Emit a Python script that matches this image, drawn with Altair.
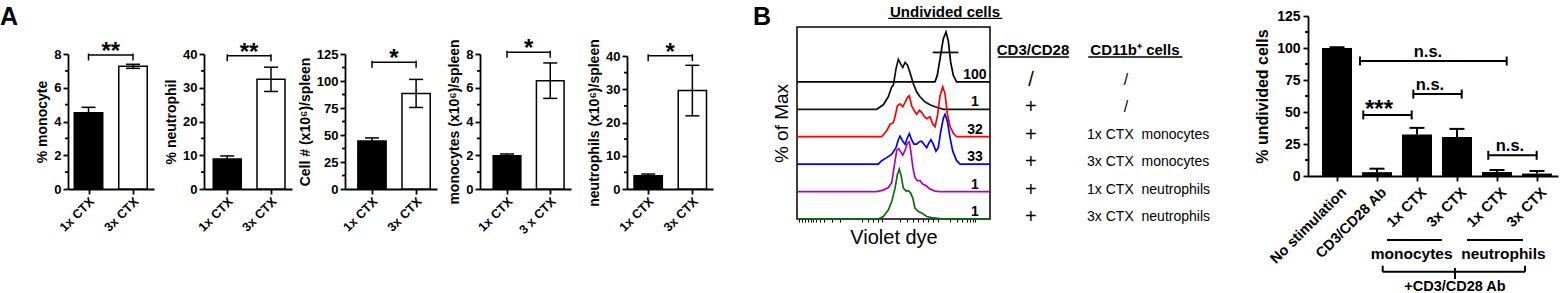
import altair as alt
import pandas as pd

W, H = 1562, 293
FONT = "Liberation Sans"

# ---------------- Panel A data ----------------
A_GROUPS = ["1x CTX", "3x CTX"]
A_TICKLABELS = [["1x CTX", "3x CTX"], ["1x CTX", "3x CTX"], ["1x CTX", "3x CTX"],
                ["1x CTX", "3 x CTX"], ["1x CTX", "3x CTX"]]
A_TITLES = ["% monocyte", "% neutrophil", "Cell # (x10\u2076)/spleen",
            "monocytes (x10\u2076)/spleen", "neutrophils (x10\u2076)/spleen"]
A_MEAN = [[4.52, 7.27], [8.9, 32.5], [44.5, 88.5], [1.97, 6.42], [4.0, 29.6]]
A_SEM = [[0.32, 0.12], [0.9, 3.6], [2.8, 13.0], [0.1, 1.05], [0.5, 7.6]]
A_YMAX = [8, 40, 125, 8, 40]
A_YSTEP = [2, 10, 25, 2, 10]
A_SIG = ["**", "**", "*", "*", "*"]
A_SIG_Y = [7.94, 39.5, 117.3, 8.1, 40.1]

# layout of panel A (pixels of each plot area, and x-domain in group units)
A_XRANGE = [[68, 154], [204, 292], [345, 437], [480, 571], [627, 713]]
A_XDOM = [[0.539, 2.472], [0.469, 2.48], [0.388, 2.474], [0.375, 2.48], [0.521, 2.467]]
A_YTOP = [54, 54, 54, 54, 56]
A_YBOT = 189
A_HALF = 0.32

# ---------------- Panel B histogram data ----------------
HIST_NAMES = ["No stimulation", "CD3/CD28", "1x CTX monocytes", "3x CTX monocytes",
              "1x CTX neutrophils", "3x CTX neutrophils"]
HIST_COLORS = ["#000000", "#111111", "#ff0000", "#0000ff", "#b400b4", "#0b6e0b"]
U0 = [0, 71.5, 72.7, 74.1, 75.8, 77.2, 78.4, 79.6, 81.0, 82.7, 100]
P0 = [0, 0, 13, 46, 86, 100, 82, 40, 13, 0, 0]
U1 = [0, 41.3, 44.7, 47.3, 49.1, 49.9, 51.3, 52.5, 53.7, 54.8, 56.0, 57.2, 58.5, 60.3, 62.0,
      63.7, 66.3, 68.9, 71.5, 74.1, 75.8, 100]
P1 = [0, 0, 9, 25, 45, 48, 81, 100, 91, 84, 94, 89, 74, 51, 35, 25, 15, 9, 5, 2, 0, 0]
U2 = [0, 43.9, 46.5, 48.2, 49.9, 50.8, 52.0, 53.4, 54.8, 56.0, 57.2, 58.2, 59.4, 60.6, 62.0,
      63.4, 64.6, 66.0, 67.2, 68.9, 70.3, 71.5, 72.7, 74.1, 75.5, 76.7, 77.9, 79.3, 81.0, 82.7, 100]
P2 = [0, 0, 12, 25, 28, 40, 62, 66, 60, 69, 79, 82, 62, 53, 45, 53, 49, 40, 36, 40, 26, 20, 40,
      82, 100, 86, 46, 20, 7, 0, 0]
U3 = [0, 42.1, 43.9, 46.5, 49.1, 51.3, 52.5, 53.4, 54.8, 56.0, 57.2, 58.2, 59.4, 60.6, 62.0,
      63.4, 64.6, 65.8, 67.2, 68.4, 69.4, 70.6, 72.0, 73.2, 74.5, 75.8, 76.7, 77.9, 79.3, 80.7,
      82.7, 84.5, 100]
P3 = [0, 0, 7, 13, 20, 33, 49, 56, 46, 40, 53, 61, 49, 40, 40, 45, 46, 40, 33, 43, 49, 40, 26,
      33, 66, 92, 100, 86, 53, 26, 7, 0, 0]
U4 = [0, 41.3, 44.7, 47.3, 49.1, 50.3, 51.7, 52.7, 53.7, 54.8, 56.0, 57.2, 58.2, 58.9, 60.0,
      61.1, 62.3, 63.7, 65.1, 66.8, 68.9, 71.5, 74.1, 100]
P4 = [0, 0, 3, 8, 18, 49, 83, 86, 80, 73, 83, 97, 100, 83, 49, 29, 22, 22, 15, 12, 5, 1, 0, 0]
U5 = [0, 42.1, 44.7, 47.3, 49.1, 50.8, 52.0, 53.0, 54.0, 55.1, 56.5, 57.7, 58.9, 60.0, 61.1,
      62.9, 64.6, 67.2, 69.8, 74.1, 77.6, 100]
P5 = [0, 0, 5, 18, 35, 62, 89, 100, 86, 62, 56, 57, 52, 42, 22, 15, 12, 5, 3, 1, 0, 0]
HIST_U = [U0, U1, U2, U3, U4, U5]
HIST_P = [P0, P1, P2, P3, P4, P5]
HIST_UNDIV = ["100", "1", "32", "33", "1", "1"]
GATE_U = [70.3, 83.6]
GATE_PCT = 59
TABLE_STIM = ["/", "+", "+", "+", "+", "+"]
TABLE_CELLS = ["/", "/", "1x CTX\u00a0 monocytes", "3x CTX\u00a0 monocytes",
               "1x CTX\u00a0 neutrophils", "3x CTX\u00a0 neutrophils"]
HIST_TICKS = [1, 2.5, 4, 5.5, 7, 8.5, 10, 12, 14, 18, 22.3, 33.5, 37, 39.5, 42, 44, 53.4, 56.8,
              60.3, 62.8, 65.4, 68, 70.6, 73.2, 79.3, 82.7, 85.3, 87.9, 89.6, 91, 92.2]

# histogram layout
HX_DOM = [0, 100]
HX_RANGE = [797, 990]
HY_DOM = [0, 385]
HY_RANGE = [219, 27]
H_STEP = 55

# ---------------- Panel B bar data ----------------
B_CATS = ["No stimulation", "CD3/CD28 Ab", "1x CTX", "3x CTX", "1x CTX", "3x CTX"]
B_MEAN = [100.0, 3.0, 32.4, 30.5, 3.1, 1.9]
B_SEM = [0.6, 2.7, 5.2, 6.3, 1.6, 2.0]
B_SIG_X1 = [1.657, 2.908, 1.575, 4.782]
B_SIG_X2 = [2.867, 4.117, 5.242, 5.992]
B_SIG_Y = [47.7, 64.0, 89.8, 16.2]
B_SIG_LABEL = ["***", "n.s.", "n.s.", "n.s."]
B_SIG_LX = [2.05, 3.325, 3.275, 5.325]
B_GROUP_NAMES = ["monocytes", "neutrophils"]
B_GROUP_X1 = [2.25, 4.25]
B_GROUP_X2 = [3.625, 5.65]
B_GROUP_TX = [2.867, 5.16]

B_XRANGE = [1308, 1558]
B_XDOM = [0.275, 6.525]
B_YRANGE = [176, 16]
B_HALF = 0.375

AXW = 1.8


def minor_ticks(values, x0, X, Y):
    df = pd.DataFrame({"v": values, "x0": [x0] * len(values)})
    return alt.Chart(df).mark_tick(orient="horizontal", size=3, thickness=AXW,
                                   xOffset=-1.5, color="black", opacity=1).encode(
        x=X("x0:Q"), y=Y("v:Q"))


def make_enc(scale, axis, ch):
    def f(field):
        return ch(field, scale=scale, axis=axis)
    return f


def panel_a(i):
    df = pd.DataFrame({"pos": [1, 2], "group": A_GROUPS, "mean": A_MEAN[i], "sem": A_SEM[i]})
    xs = alt.Scale(domain=A_XDOM[i], range=A_XRANGE[i], nice=False, zero=False)
    ys = alt.Scale(domain=[0, A_YMAX[i]], range=[A_YBOT, A_YTOP[i]], nice=False, zero=False)
    step = A_YSTEP[i]
    lab = A_TICKLABELS[i]
    ymajor = list(range(0, A_YMAX[i] + 1, step))
    yminor = [v + step / 2 for v in ymajor[:-1]]
    xaxis = alt.Axis(values=[1, 2], labelExpr=f"datum.value == 1 ? '{lab[0]}' : '{lab[1]}'",
                     title=None, orient="bottom", offset=A_YBOT - H, labelAngle=315,
                     labelAlign="right", labelBaseline="middle", labelFontSize=12.5,
                     labelFontWeight="bold", tickSize=5, labelPadding=5, labelOffset=3,
                     labelFlush=False, labelOverlap=False, labelLimit=300, grid=False)
    yaxis = alt.Axis(values=ymajor, tickSize=5,
                     title=A_TITLES[i], orient="left", offset=-A_XRANGE[i][0],
                     labelFontSize=13, labelFontWeight="bold", labelPadding=2,
                     titleFontSize=14, titleFontWeight="bold", titlePadding=4,
                     labelOverlap=False, labelFlush=False, grid=False)
    X = make_enc(xs, xaxis, alt.X)
    Y = make_enc(ys, yaxis, alt.Y)
    base = alt.Chart(df).transform_calculate(
        lo=f"datum.pos - {A_HALF}", hi=f"datum.pos + {A_HALF}",
        up="datum.mean + datum.sem", dn="datum.mean - datum.sem", zero="0")
    bars = base.mark_bar(stroke="black", strokeWidth=1.5, opacity=1).encode(
        x=X("lo:Q"), x2="hi:Q", y=Y("mean:Q"), y2="zero:Q",
        fill=alt.condition(alt.datum.pos == 1, alt.value("black"), alt.value("white")))
    err = base.mark_rule(strokeWidth=1.5, color="black").encode(
        x=X("pos:Q"), y=Y("dn:Q"), y2="up:Q")
    cap_up = base.mark_tick(orient="horizontal", size=14, thickness=1.5, color="black",
                            opacity=1).encode(x=X("pos:Q"), y=Y("up:Q"))
    cap_dn = base.mark_tick(orient="horizontal", size=14, thickness=1.5, color="black",
                            opacity=1).encode(x=X("pos:Q"), y=Y("dn:Q"))
    sig = pd.DataFrame({"x1": [1], "x2": [2], "y": [A_SIG_Y[i]], "label": [A_SIG[i]]})
    sbase = alt.Chart(sig)
    br = sbase.mark_rule(strokeWidth=1.5, color="black").encode(
        x=X("x1:Q"), x2="x2:Q", y=Y("y:Q"))
    ends = sbase.transform_fold(["x1", "x2"], as_=["end", "xe"]).mark_tick(
        orient="vertical", size=7, thickness=1.5, yOffset=2, color="black", opacity=1).encode(
        x=X("xe:Q"), y=Y("y:Q"))
    star = sbase.transform_calculate(xm="(datum.x1 + datum.x2) / 2").mark_text(
        fontSize=24, fontWeight="bold", baseline="alphabetic", dy=4, font=FONT).encode(
        x=X("xm:Q"), y=Y("y:Q"), text="label:N")
    minor = minor_ticks(yminor, A_XDOM[i][0], X, Y)
    return alt.layer(bars, err, cap_up, cap_dn, br, ends, star, minor)


def panel_hist():
    rows = []
    for k, (us, ps) in enumerate(zip(HIST_U, HIST_P)):
        for u, p in zip(us, ps):
            rows.append({"k": k, "trace": HIST_NAMES[k], "u": u, "pct": p})
    df = pd.DataFrame(rows)
    xs = alt.Scale(domain=HX_DOM, range=HX_RANGE, nice=False, zero=False)
    ys = alt.Scale(domain=HY_DOM, range=HY_RANGE, nice=False, zero=False)
    xaxis = alt.Axis(values=HIST_TICKS, labels=False, tickSize=3, tickWidth=1, domain=False,
                     title="Violet dye", titleFontSize=20, titleFontWeight="normal",
                     titlePadding=5, orient="bottom", offset=HY_RANGE[0] - H, grid=False)
    yaxis = alt.Axis(labels=False, ticks=False, domain=False, title="% of Max",
                     titleFontSize=19, titleFontWeight="normal", titlePadding=6,
                     orient="left", offset=-HX_RANGE[0], grid=False)
    X = make_enc(xs, xaxis, alt.X)
    Y = make_enc(ys, yaxis, alt.Y)
    frame = alt.Chart(pd.DataFrame({"x0": [HX_DOM[0]], "x1": [HX_DOM[1]],
                                    "y0": [HY_DOM[0]], "y1": [HY_DOM[1]]})).mark_rect(
        fillOpacity=0, stroke="black", strokeWidth=1.5).encode(
        x=X("x0:Q"), x2="x1:Q", y=Y("y0:Q"), y2="y1:Q")
    lines = alt.Chart(df).transform_calculate(
        yy=f"(5 - datum.k) * {H_STEP} + datum.pct").mark_line(strokeWidth=1.7, opacity=1).encode(
        x=X("u:Q"), y=Y("yy:Q"),
        color=alt.Color("trace:N", scale=alt.Scale(domain=HIST_NAMES, range=HIST_COLORS),
                        legend=None),
        order="u:Q")
    gate = alt.Chart(pd.DataFrame({"u1": [GATE_U[0]], "u2": [GATE_U[1]], "p": [GATE_PCT]})
                     ).transform_calculate(yy=f"5 * {H_STEP} + datum.p").mark_rule(
        strokeWidth=1.7, color="black").encode(x=X("u1:Q"), x2="u2:Q", y=Y("yy:Q"))
    tab = pd.DataFrame({"k": list(range(6)), "num": HIST_UNDIV, "stim": TABLE_STIM,
                        "cells": TABLE_CELLS})
    tbase = alt.Chart(tab).transform_calculate(
        base=f"(5 - datum.k) * {H_STEP}", ynum="datum.base + 6", yrow="datum.base + 4",
        xnum="92.2", xstim="121.2", xslash="170.5", xcell="150.3")
    nums = tbase.mark_text(fontSize=14, fontWeight="bold", baseline="alphabetic", align="center",
                           font=FONT).encode(x=X("xnum:Q"), y=Y("ynum:Q"), text="num:N")
    stim = tbase.mark_text(fontSize=20, baseline="middle", align="center", font=FONT).encode(
        x=X("xstim:Q"), y=Y("yrow:Q"), text="stim:N")
    slash = tbase.transform_filter("datum.cells == '/'").mark_text(
        fontSize=16, baseline="middle", align="center", font=FONT).encode(
        x=X("xslash:Q"), y=Y("yrow:Q"), text="cells:N")
    cells = tbase.transform_filter("datum.cells != '/'").mark_text(
        fontSize=14, baseline="middle", align="left", font=FONT).encode(
        x=X("xcell:Q"), y=Y("yrow:Q"), text="cells:N")
    heads = pd.DataFrame({"t": ["Undivided cells", "CD3/CD28", "CD11b\u207a cells"],
                          "xc": [76.7, 122.3, 175.1], "x1": [47.3, 104.1, 150.9],
                          "x2": [106.4, 140.9, 199.7], "yt": [406, 329, 329],
                          "yl": [402.4, 324.8, 324.8]})
    htext = alt.Chart(heads).mark_text(fontSize=15, fontWeight="bold", baseline="alphabetic",
                                       align="center", font=FONT).encode(
        x=X("xc:Q"), y=Y("yt:Q"), text="t:N")
    hline = alt.Chart(heads).mark_rule(strokeWidth=1.3, color="black").encode(
        x=X("x1:Q"), x2="x2:Q", y=Y("yl:Q"))
    return alt.layer(frame, lines, gate, nums, stim, slash, cells, htext, hline)


def panel_b():
    df = pd.DataFrame({"pos": list(range(1, 7)), "cat": B_CATS, "mean": B_MEAN, "sem": B_SEM})
    xs = alt.Scale(domain=B_XDOM, range=B_XRANGE, nice=False, zero=False)
    ys = alt.Scale(domain=[0, 125], range=B_YRANGE, nice=False, zero=False)
    cats_js = "[" + ",".join("'" + c + "'" for c in B_CATS) + "]"
    xaxis = alt.Axis(values=list(range(1, 7)), labelExpr=f"{cats_js}[datum.value - 1]",
                     title=None, orient="bottom", offset=B_YRANGE[0] - H, labelAngle=315,
                     labelAlign="right", labelBaseline="middle", labelFontSize=14.5,
                     labelFontWeight="bold", tickSize=5, labelPadding=9, labelOffset=7,
                     labelFlush=False, labelOverlap=False, labelLimit=300, grid=False)
    yaxis = alt.Axis(values=[0, 25, 50, 75, 100, 125], tickSize=5,
                     title="% undivided cells", orient="left", offset=-B_XRANGE[0],
                     labelFontSize=14, labelFontWeight="bold", labelPadding=3,
                     titleFontSize=16, titleFontWeight="bold", titlePadding=6,
                     labelOverlap=False, labelFlush=False, grid=False)
    X = make_enc(xs, xaxis, alt.X)
    Y = make_enc(ys, yaxis, alt.Y)
    base = alt.Chart(df).transform_calculate(
        lo=f"datum.pos - {B_HALF}", hi=f"datum.pos + {B_HALF}",
        up="datum.mean + datum.sem", zero="0")
    bars = base.mark_bar(color="black", opacity=1).encode(
        x=X("lo:Q"), x2="hi:Q", y=Y("mean:Q"), y2="zero:Q")
    err = base.mark_rule(strokeWidth=2, color="black").encode(
        x=X("pos:Q"), y=Y("mean:Q"), y2="up:Q")
    cap = base.mark_tick(orient="horizontal", size=15, thickness=2, color="black",
                         opacity=1).encode(x=X("pos:Q"), y=Y("up:Q"))
    sig = pd.DataFrame({"x1": B_SIG_X1, "x2": B_SIG_X2, "y": B_SIG_Y, "label": B_SIG_LABEL,
                        "lx": B_SIG_LX})
    sbase = alt.Chart(sig)
    br = sbase.mark_rule(strokeWidth=2, color="black").encode(
        x=X("x1:Q"), x2="x2:Q", y=Y("y:Q"))
    ends = sbase.transform_fold(["x1", "x2"], as_=["end", "xe"]).mark_tick(
        orient="vertical", size=9, thickness=2, color="black", opacity=1).encode(
        x=X("xe:Q"), y=Y("y:Q"))
    stars = sbase.transform_filter("datum.label == '***'").mark_text(
        fontSize=24, fontWeight="bold", baseline="alphabetic", dy=2, font=FONT).encode(
        x=X("lx:Q"), y=Y("y:Q"), text="label:N")
    ns = sbase.transform_filter("datum.label != '***'").mark_text(
        fontSize=16.5, fontWeight="bold", baseline="alphabetic", dy=-4, font=FONT).encode(
        x=X("lx:Q"), y=Y("y:Q"), text="label:N")
    grp = pd.DataFrame({"name": B_GROUP_NAMES, "x1": B_GROUP_X1, "x2": B_GROUP_X2,
                        "tx": B_GROUP_TX})
    gbase = alt.Chart(grp).transform_calculate(yl="-50", yt="-60.9")
    gline = gbase.mark_rule(strokeWidth=2.2, color="black").encode(
        x=X("x1:Q"), x2="x2:Q", y=Y("yl:Q"))
    gtext = gbase.mark_text(fontSize=15.5, fontWeight="bold", baseline="middle", font=FONT).encode(
        x=X("tx:Q"), y=Y("yt:Q"), text="name:N")
    outer = pd.DataFrame({"x1": [2.142], "x2": [5.7], "xc": [3.95], "y": [-74.8], "yend": [-70.1],
                          "yc1": [-71.9], "yc2": [-80.5], "yt": [-86.7], "t": ["+CD3/CD28 Ab"]})
    obase = alt.Chart(outer)
    oline = obase.mark_rule(strokeWidth=2, color="black").encode(
        x=X("x1:Q"), x2="x2:Q", y=Y("y:Q"))
    oends = obase.transform_fold(["x1", "x2"], as_=["end", "xe"]).mark_rule(
        strokeWidth=2, color="black").encode(x=X("xe:Q"), y=Y("y:Q"), y2="yend:Q")
    ocenter = obase.mark_rule(strokeWidth=2, color="black").encode(
        x=X("xc:Q"), y=Y("yc1:Q"), y2="yc2:Q")
    otext = obase.mark_text(fontSize=14.5, fontWeight="bold", baseline="middle", font=FONT).encode(
        x=X("xc:Q"), y=Y("yt:Q"), text="t:N")
    minor = minor_ticks([12.5 + 25 * k for k in range(5)], B_XDOM[0], X, Y)
    return alt.layer(bars, err, cap, br, ends, stars, ns, gline, gtext, oline, oends, ocenter,
                     otext, minor)


letters = alt.Chart(pd.DataFrame({"t": ["A"]})).mark_text(
    fontSize=25, fontWeight="bold", align="left", baseline="alphabetic", font=FONT).encode(
    x=alt.value(0), y=alt.value(25), text="t:N")
letters_b = alt.Chart(pd.DataFrame({"t": ["B"]})).mark_text(
    fontSize=25, fontWeight="bold", align="left", baseline="alphabetic", font=FONT).encode(
    x=alt.value(753), y=alt.value(25), text="t:N")

chart = alt.layer(
    *[panel_a(i) for i in range(5)], panel_hist(), panel_b(), letters, letters_b
).resolve_scale(
    x="independent", y="independent", color="independent"
).resolve_axis(
    x="independent", y="independent"
).properties(
    width=W, height=H, autosize=alt.AutoSizeParams(type="none"), padding=0
).configure_axis(
    labelFont=FONT, titleFont=FONT, domainColor="black", tickColor="black",
    labelColor="black", titleColor="black", domainWidth=AXW, tickWidth=AXW, grid=False
).configure_text(font=FONT, color="black").configure_view(stroke="transparent")

chart.save("out.html", embed_options={"renderer": "svg", "actions": False})
